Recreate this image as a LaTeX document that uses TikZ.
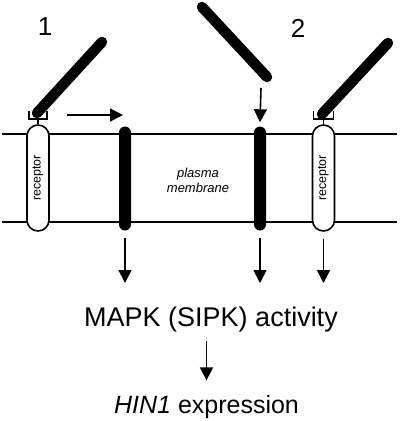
\documentclass[tikz,border=0pt]{standalone}
\usepackage{fontspec}
\setmainfont{Liberation Sans}
\usetikzlibrary{arrows.meta}

\tikzset{
  arr/.style={line width=1.6pt, -{Triangle[length=13pt,width=13pt]}},
  ligand/.style={line width=10.5pt, line cap=round},
  receptorbox/.style={draw, line width=1.6pt, fill=white, rounded corners=11pt,
    minimum width=22pt, minimum height=106pt, inner sep=0pt},
  channel/.style={fill=black, rounded corners=6pt, minimum width=12pt,
    minimum height=104pt, inner sep=0pt},
}

\begin{document}
\begin{tikzpicture}[x=1pt,y=-1pt]
            \useasboundingbox (0,0) rectangle (400,421);
            % membrane
            \draw[line width=2.3pt] (2,134) -- (397,134);
            \draw[line width=2.3pt] (2,222) -- (397,222);
            \node[font=\itshape\fontsize{13}{15}\selectfont, align=center] (pm) at (198,180) {plasma\\membrane};
            % receptors and channels
            \node[receptorbox] (rec1) at (38,178) {};
            \node[receptorbox] (rec2) at (323.5,178) {};
            \node[rotate=90, font=\fontsize{12.5}{13}\selectfont] at (rec1) {receptor};
            \node[rotate=90, font=\fontsize{12.5}{13}\selectfont] at (rec2) {receptor};
            \node[channel] (chan1) at (125,178.5) {};
            \node[channel] (chan2) at (260,178.5) {};
            % binding sites
            \draw[line width=1.5pt] (29,111) -- (29,119) -- (47,119) -- (47,111);
            \draw[line width=1.5pt] (38,119) -- (rec1.north);
            \draw[line width=1.5pt] (313.5,111) -- (313.5,119) -- (333.5,119) -- (333.5,111);
            \draw[line width=1.5pt] (323.5,119) -- (rec2.north);
            % ligands
            \draw[ligand] (37,113) -- (102,42);
            \draw[ligand] (202,7) -- (267,77);
            \draw[ligand] (322,114) -- (388,43);
            \node[font=\fontsize{26}{30}\selectfont] (n1) at (45,27) {1};
            \node[font=\fontsize{26}{30}\selectfont] (n2) at (298,28) {2};
            % signals
            \coordinate (h1) at (67,115);
            \coordinate (h2) at (123,115);
            \draw[arr] (h1) -- (h2);
            \coordinate (v1) at (261,88);
            \draw[arr] (v1) -- ([yshift=4pt]chan2.north);
            \node[anchor=base, font=\fontsize{27}{32}\selectfont] (mapk) at (211,326) {MAPK (SIPK) activity};
            \node[anchor=base, font=\fontsize{25}{30}\selectfont] (hin1) at (206.5,413) {\textit{HIN1} expression};
            \coordinate (lvl) at (0,283);
            \foreach \src in {chan1, chan2, rec2}
                \draw[arr] ([yshift=-7pt]\src.south) -- (\src.south |- lvl);
            \draw[arr, shorten <=6pt, shorten >=11pt] (hin1.north |- mapk.south) -- (hin1.north);
\end{tikzpicture}
\end{document}
